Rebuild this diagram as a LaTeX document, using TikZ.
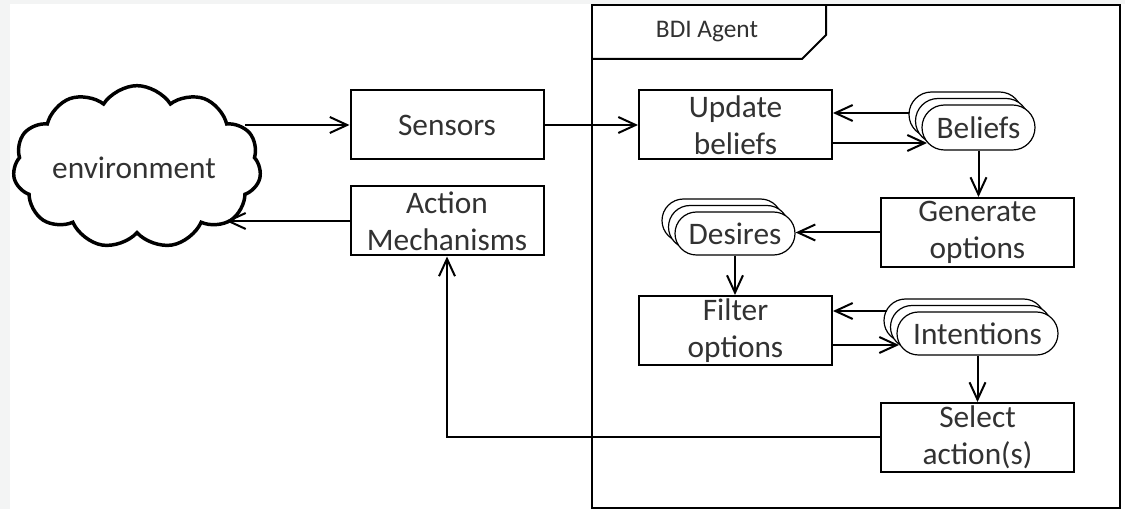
\documentclass[tikz,border=0pt]{standalone}
\usepackage{fontspec}
\setmainfont{Carlito}
\usetikzlibrary{arrows.meta,shapes.symbols,shapes.misc}
\definecolor{txt}{RGB}{50,50,50}
\definecolor{bggray}{RGB}{243,244,244}
\begin{document}
\begin{tikzpicture}[x=0.75pt,y=-0.75pt,
  mainfont/.style={font=\fontsize{23.5}{27.75}\selectfont},
  box/.style={draw, line width=1.5pt, minimum width=144.75pt, minimum height=51.75pt,
    inner sep=0pt, align=center, mainfont, text=txt},
  stk/.style={draw, fill=white, line width=0.9pt, rounded rectangle, inner sep=0pt,
    mainfont, text=txt},
  arr/.style={line width=1.5pt, -{Straight Barb[length=13pt,width=12pt,line width=1.5pt]}},
  frame/.style={line width=1.5pt}]
\useasboundingbox (0,0) rectangle (1125,509);
\fill[bggray] (0,0) rectangle (1125,509);
\fill[white] (10,4) rectangle (1125,509);

% agent frame
\draw[frame] (592,5) rectangle (1120,508);
\draw[frame] (592,59) -- (802,59) -- (826,35) -- (826,5);
\node[font=\fontsize{19}{22}\selectfont, text=txt] (bdi) at (707,32) {BDI Agent};

% environment
\node[cloud, draw, line width=2.6pt, cloud puffs=11, cloud puff arc=115, aspect=1.65,
  minimum width=186pt, minimum height=122pt, inner sep=0pt, mainfont, text=txt]
  (env) at (137,167) {};
\node[mainfont, text=txt] (envt) at (134,168) {environment};

% boxes
\node[box] (sens) at (447,125) {Sensors};
\node[box] (act) at (447,221) {Action\\Mechanisms};
\node[box] (upd) at (735.5,125) {Update\\beliefs};
\node[box] (gen) at (977.5,232.5) {Generate\\options};
\node[box] (fil) at (735.5,330.5) {Filter\\options};
\node[box] (sel) at (977.5,437.5) {Select\\action(s)};

% stacks
\node[stk, minimum width=84.75pt, minimum height=33.75pt] (bel3) at (965.5,114.5) {};
\node[stk, minimum width=84.75pt, minimum height=33.75pt] (bel2) at (972,121) {};
\node[stk, minimum width=84.75pt, minimum height=33.75pt] (bel) at (978.5,127.5) {Beliefs};

\node[stk, minimum width=90pt, minimum height=32.25pt] (des3) at (722,220.5) {};
\node[stk, minimum width=90pt, minimum height=32.25pt] (des2) at (728.5,227) {};
\node[stk, minimum width=90pt, minimum height=32.25pt] (des) at (735,233.5) {Desires};

\node[stk, minimum width=120.75pt, minimum height=32.25pt] (int3) at (964.5,320.5) {};
\node[stk, minimum width=120.75pt, minimum height=32.25pt] (int2) at (971,327) {};
\node[stk, minimum width=120.75pt, minimum height=32.25pt] (int) at (977.5,333.5) {Intentions};

% helper coordinates
\coordinate (e1) at (245,125);
\coordinate (e2) at (226,221);
\coordinate (u1) at (927,143);
\coordinate (b1) at (909,113);
\coordinate (i1) at (887,311);
\coordinate (i2) at (899,345);

% connectors
\draw[arr] (e1) -- (sens.west);
\draw[arr] (act.west) -- (e2);
\draw[arr] (sens.east) -- (upd.west);
\draw[arr] (b1) -- (b1 -| upd.east);
\draw[arr] (upd.east |- u1) -- (u1);
\draw[arr] (bel.south) -- (bel.south |- gen.north);
\draw[arr] (gen.west) -- (gen.west -| des.east);
\draw[arr] (des.south) -- (des.south |- fil.north);
\draw[arr] (i1) -- (i1 -| fil.east);
\draw[arr] (fil.east |- i2) -- (i2);
\draw[arr] (int.south) -- (int.south |- sel.north);
\draw[arr] (sel.west) -- (act.south |- sel.west) -- (act.south);
\end{tikzpicture}
\end{document}
